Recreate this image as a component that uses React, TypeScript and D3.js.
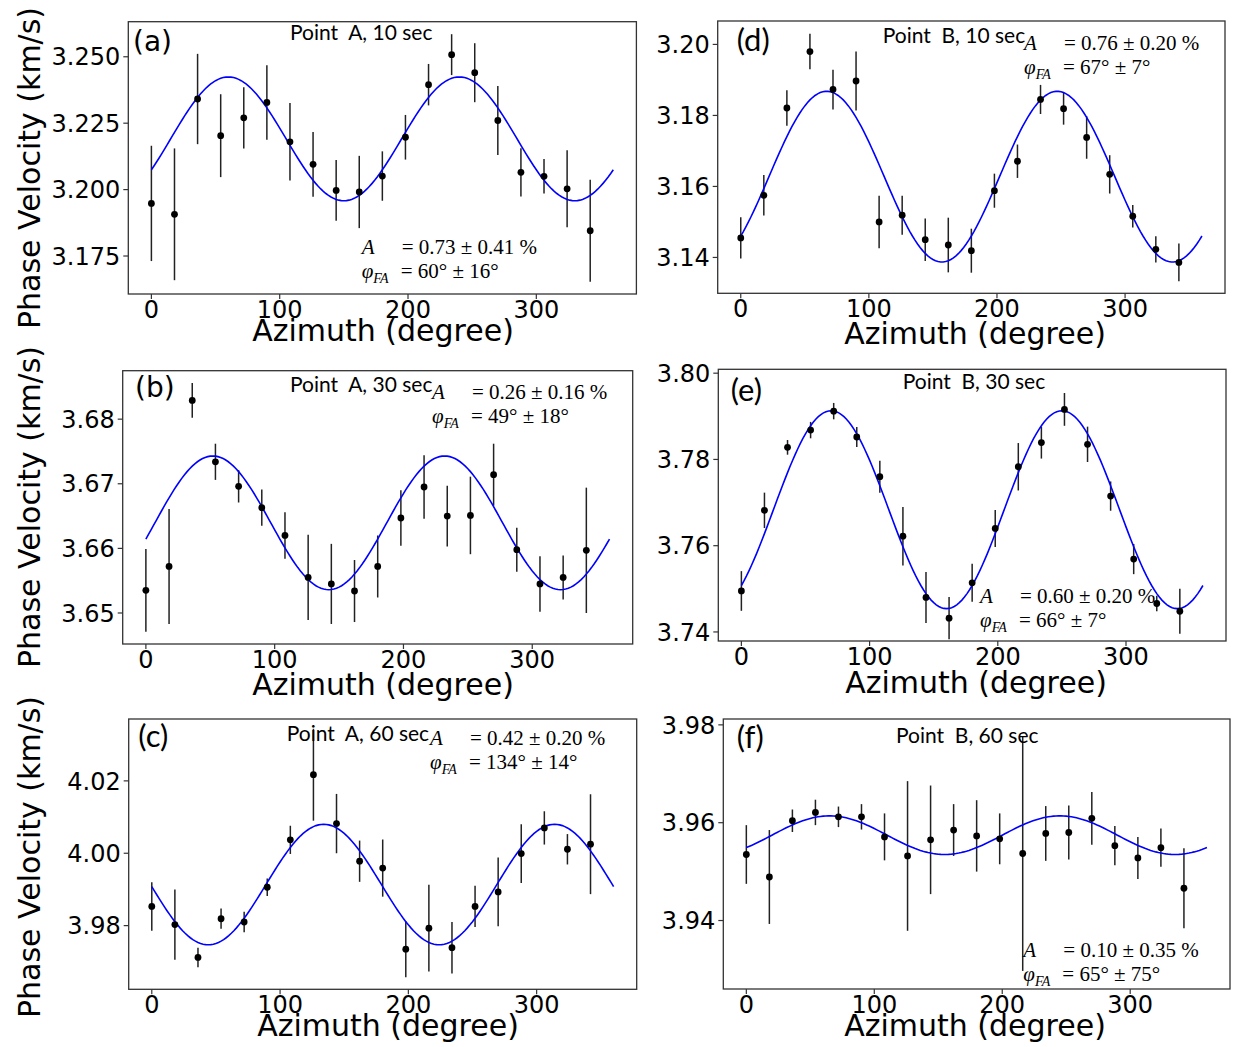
import * as d3 from 'd3';

// azimuth of the measurements (degree)
const azimuth = [0, 18, 36, 54, 72, 90, 108, 126, 144, 162, 180, 198, 216, 234, 252, 270, 288, 306, 324, 342];

// Point A, 10 sec
const velA10 = [3.1948, 3.1907, 3.2341, 3.2203, 3.227, 3.2328, 3.218, 3.2095, 3.1997, 3.1991, 3.2051, 3.2197, 3.2395, 3.2508, 3.244, 3.226, 3.2065, 3.205, 3.2003, 3.1845];
const errA10 = [0.0217, 0.0248, 0.017, 0.0156, 0.0115, 0.014, 0.0146, 0.0122, 0.0114, 0.0136, 0.0093, 0.0084, 0.0078, 0.0077, 0.0111, 0.013, 0.0091, 0.0065, 0.0145, 0.0192];

// Point B, 10 sec
const velB10 = [3.1455, 3.1575, 3.1821, 3.198, 3.1873, 3.1897, 3.15, 3.1519, 3.145, 3.1435, 3.1419, 3.1588, 3.1671, 3.1845, 3.1819, 3.1738, 3.1634, 3.1516, 3.1423, 3.1386];
const errB10 = [0.0058, 0.0057, 0.005, 0.005, 0.0056, 0.0083, 0.0074, 0.0055, 0.006, 0.0077, 0.0062, 0.0048, 0.0047, 0.0041, 0.0045, 0.006, 0.0054, 0.0032, 0.0037, 0.0053];

// Point A, 30 sec
const velA30 = [3.6535, 3.6572, 3.6829, 3.6734, 3.6696, 3.6663, 3.662, 3.6555, 3.6545, 3.6534, 3.6572, 3.6647, 3.6695, 3.665, 3.6651, 3.6714, 3.6598, 3.6545, 3.6555, 3.6597];
const errA30 = [0.0064, 0.0089, 0.0027, 0.0028, 0.0025, 0.0028, 0.0036, 0.0066, 0.0062, 0.0048, 0.0048, 0.0043, 0.0049, 0.0047, 0.006, 0.0048, 0.0034, 0.0043, 0.0034, 0.0097];

// Point B, 30 sec
const velB30 = [3.7495, 3.7682, 3.7828, 3.7868, 3.7912, 3.7852, 3.776, 3.7622, 3.748, 3.7432, 3.7514, 3.764, 3.7783, 3.7839, 3.7916, 3.7835, 3.7715, 3.7569, 3.7466, 3.7448];
const errB30 = [0.0046, 0.0041, 0.0017, 0.0019, 0.0019, 0.0023, 0.0037, 0.0068, 0.0059, 0.0049, 0.0044, 0.0043, 0.0055, 0.0037, 0.0038, 0.0041, 0.0034, 0.0035, 0.0018, 0.0052];

// Point A, 60 sec
const velA60 = [3.9853, 3.9803, 3.9712, 3.9819, 3.981, 3.9906, 4.0037, 4.0217, 4.0082, 3.9978, 3.9959, 3.9735, 3.9793, 3.9739, 3.9853, 3.9893, 3.9999, 4.007, 4.0011, 4.0025];
const errA60 = [0.0067, 0.0097, 0.0027, 0.0028, 0.0028, 0.0024, 0.0039, 0.0127, 0.0082, 0.0057, 0.0079, 0.0078, 0.012, 0.0071, 0.0057, 0.0095, 0.0081, 0.0046, 0.0042, 0.0138];

// Point B, 60 sec
const velB60 = [3.9535, 3.9489, 3.9604, 3.9621, 3.9612, 3.9612, 3.9571, 3.9532, 3.9565, 3.9585, 3.9573, 3.9567, 3.9537, 3.9578, 3.958, 3.9609, 3.9553, 3.9528, 3.9549, 3.9466];
const errB60 = [0.006, 0.0096, 0.0023, 0.0026, 0.0021, 0.0026, 0.0048, 0.0153, 0.0111, 0.0053, 0.0073, 0.0052, 0.024, 0.0056, 0.0055, 0.0054, 0.004, 0.0043, 0.0039, 0.0082];

// fitted cos(2θ) curves: mean velocity, amplitude (km/s), fast axis (deg)
const fitMean = [3.2191, 3.16275, 3.66395, 3.76835, 3.99135, 3.95745];
const fitAmp = [0.0233, 0.02405, 0.01035, 0.02295, 0.01665, 0.00395];
const fitPhase = [60, 67, 52, 70, 134, 65];

const fitAText = ['= 0.73 ± 0.41 %', '= 0.76 ± 0.20 %', '= 0.26 ± 0.16 %', '= 0.60 ± 0.20 %', '= 0.42 ± 0.20 %', '= 0.10 ± 0.35 %'];
const fitPhiText = ['= 60° ± 16°', '= 67° ± 7°', '= 49° ± 18°', '= 66° ± 7°', '= 134° ± 14°', '= 65° ± 75°'];
const titles = ['Point\u00a0 A, 10 sec', 'Point\u00a0 B, 10 sec', 'Point\u00a0 A, 30 sec', 'Point\u00a0 B, 30 sec', 'Point\u00a0 A, 60 sec', 'Point\u00a0 B, 60 sec'];
const letters = ['(a)', '(d)', '(b)', '(e)', '(c)', '(f)'];

const xTicks = [0, 100, 200, 300];

const panels = [
  { v: velA10, e: errA10, left: 128.3, top: 21.7, right: 636.4, bottom: 294, yDomain: [3.1607, 3.2632], yTicks: [3.175, 3.2, 3.225, 3.25], fmt: '.3f', letterX: 133, letterY: 51, letterFont: 'DejaVu Sans', letterSize: 28, titleX: 290, titleY: 40, fitX: 361.7, fitY: 254, xlabX: 383, xlabY: 341, ylabY: 168 },
  { v: velB10, e: errB10, left: 717.7, top: 21, right: 1225, bottom: 293.3, yDomain: [3.1299, 3.2066], yTicks: [3.14, 3.16, 3.18, 3.2], fmt: '.2f', letterX: 736.7, letterY: 51, letterFont: 'Lato', letterSize: 31, titleX: 882.7, titleY: 43, fitX: 1024, fitY: 50, xlabX: 975, xlabY: 344, ylabY: null },
  { v: velA30, e: errA30, left: 122.7, top: 370.7, right: 632.7, bottom: 644, yDomain: [3.6452, 3.6875], yTicks: [3.65, 3.66, 3.67, 3.68], fmt: '.2f', letterX: 135, letterY: 397, letterFont: 'DejaVu Sans', letterSize: 28, titleX: 290, titleY: 392, fitX: 432, fitY: 399, xlabX: 383, xlabY: 695, ylabY: 507 },
  { v: velB30, e: errB30, left: 718.3, top: 369.3, right: 1226, bottom: 641, yDomain: [3.7379, 3.8009], yTicks: [3.74, 3.76, 3.78, 3.8], fmt: '.2f', letterX: 730.7, letterY: 401, letterFont: 'Lato', letterSize: 31, titleX: 902.7, titleY: 389, fitX: 980, fitY: 603, xlabX: 976, xlabY: 693, ylabY: null },
  { v: velA60, e: errA60, left: 128.7, top: 719, right: 636.7, bottom: 989.3, yDomain: [3.9624, 4.0371], yTicks: [3.98, 4.0, 4.02], fmt: '.2f', letterX: 138.3, letterY: 747, letterFont: 'Lato', letterSize: 31, titleX: 286.7, titleY: 741, fitX: 430, fitY: 745, xlabX: 388, xlabY: 1036, ylabY: 857 },
  { v: velB60, e: errB60, left: 723.3, top: 719, right: 1230, bottom: 989, yDomain: [3.926, 3.9812], yTicks: [3.94, 3.96, 3.98], fmt: '.2f', letterX: 736.7, letterY: 748, letterFont: 'Lato', letterSize: 31, titleX: 896, titleY: 743, fitX: 1023.3, fitY: 957, xlabX: 975, xlabY: 1036, ylabY: null },
];

const tickFont = 'DejaVu Sans, sans-serif';
const mathFont = 'Liberation Serif, serif';

function Panel({ p, i }) {
  const x = d3.scaleLinear().domain([-18, 378]).range([p.left, p.right]);
  const y = d3.scaleLinear().domain(p.yDomain).range([p.bottom, p.top]);
  const fmt = d3.format(p.fmt);

  const theta = d3.range(0, 360.5, 2);
  const line = d3
    .line<number>()
    .x((t) => x(t))
    .y((t) => y(fitMean[i] + fitAmp[i] * Math.cos((2 * (t - fitPhase[i]) * Math.PI) / 180)));

  return (
    <g>
      {/* error bars */}
      {azimuth.map((az, k) => (
        <line key={'e' + k} x1={x(az)} x2={x(az)} y1={y(p.v[k] - p.e[k])} y2={y(p.v[k] + p.e[k])} stroke="#222" strokeWidth={1.5} />
      ))}
      <path d={line(theta)} fill="none" stroke="#0000ff" strokeWidth={1.6} />
      {azimuth.map((az, k) => (
        <circle key={'p' + k} cx={x(az)} cy={y(p.v[k])} r={3.4} fill="#000" />
      ))}

      {/* frame */}
      <rect x={p.left} y={p.top} width={p.right - p.left} height={p.bottom - p.top} fill="none" stroke="#333" strokeWidth={1.3} />

      {/* y axis */}
      {p.yTicks.map((t) => (
        <g key={'y' + t}>
          <line x1={p.left - 5} x2={p.left} y1={y(t)} y2={y(t)} stroke="#333" strokeWidth={1.2} />
          <text x={p.left - 8} y={y(t)} dy="0.36em" textAnchor="end" fontFamily={tickFont} fontSize={24}>
            {fmt(t)}
          </text>
        </g>
      ))}

      {/* x axis */}
      {xTicks.map((t) => (
        <g key={'x' + t}>
          <line x1={x(t)} x2={x(t)} y1={p.bottom} y2={p.bottom + 5} stroke="#333" strokeWidth={1.2} />
          <text x={x(t)} y={p.bottom + 24} textAnchor="middle" fontFamily={tickFont} fontSize={24}>
            {t}
          </text>
        </g>
      ))}
      <text x={p.xlabX} y={p.xlabY} textAnchor="middle" fontFamily={tickFont} fontSize={30}>
        Azimuth (degree)
      </text>
      {p.ylabY !== null && (
        <text transform={`translate(40,${p.ylabY}) rotate(-90)`} textAnchor="middle" fontFamily={tickFont} fontSize={30}>
          Phase Velocity (km/s)
        </text>
      )}

      {/* annotations */}
      <text x={p.letterX} y={p.letterY} fontFamily={p.letterFont} fontSize={p.letterSize}>
        {letters[i]}
      </text>
      <text x={p.titleX} y={p.titleY} fontFamily="Lato, sans-serif" fontSize={21}>
        {titles[i]}
      </text>
      <text x={p.fitX} y={p.fitY} fontFamily={mathFont} fontSize={21} fontStyle="italic">
        A
      </text>
      <text x={p.fitX + 40} y={p.fitY} fontFamily={mathFont} fontSize={21}>
        {fitAText[i]}
      </text>
      <text x={p.fitX} y={p.fitY + 24} fontFamily={mathFont} fontSize={21} fontStyle="italic">
        φ<tspan fontSize={14} dy={5}>FA</tspan>
      </text>
      <text x={p.fitX + 39} y={p.fitY + 24} fontFamily={mathFont} fontSize={21}>
        {fitPhiText[i]}
      </text>
    </g>
  );
}

export default function App() {
  return (
    <svg width={1239} height={1047} style={{ position: 'absolute', left: 0, top: 0, background: '#fff' }}>
      <rect width={1239} height={1047} fill="#fff" />
      {panels.map((p, i) => (
        <Panel key={i} p={p} i={i} />
      ))}
    </svg>
  );
}
